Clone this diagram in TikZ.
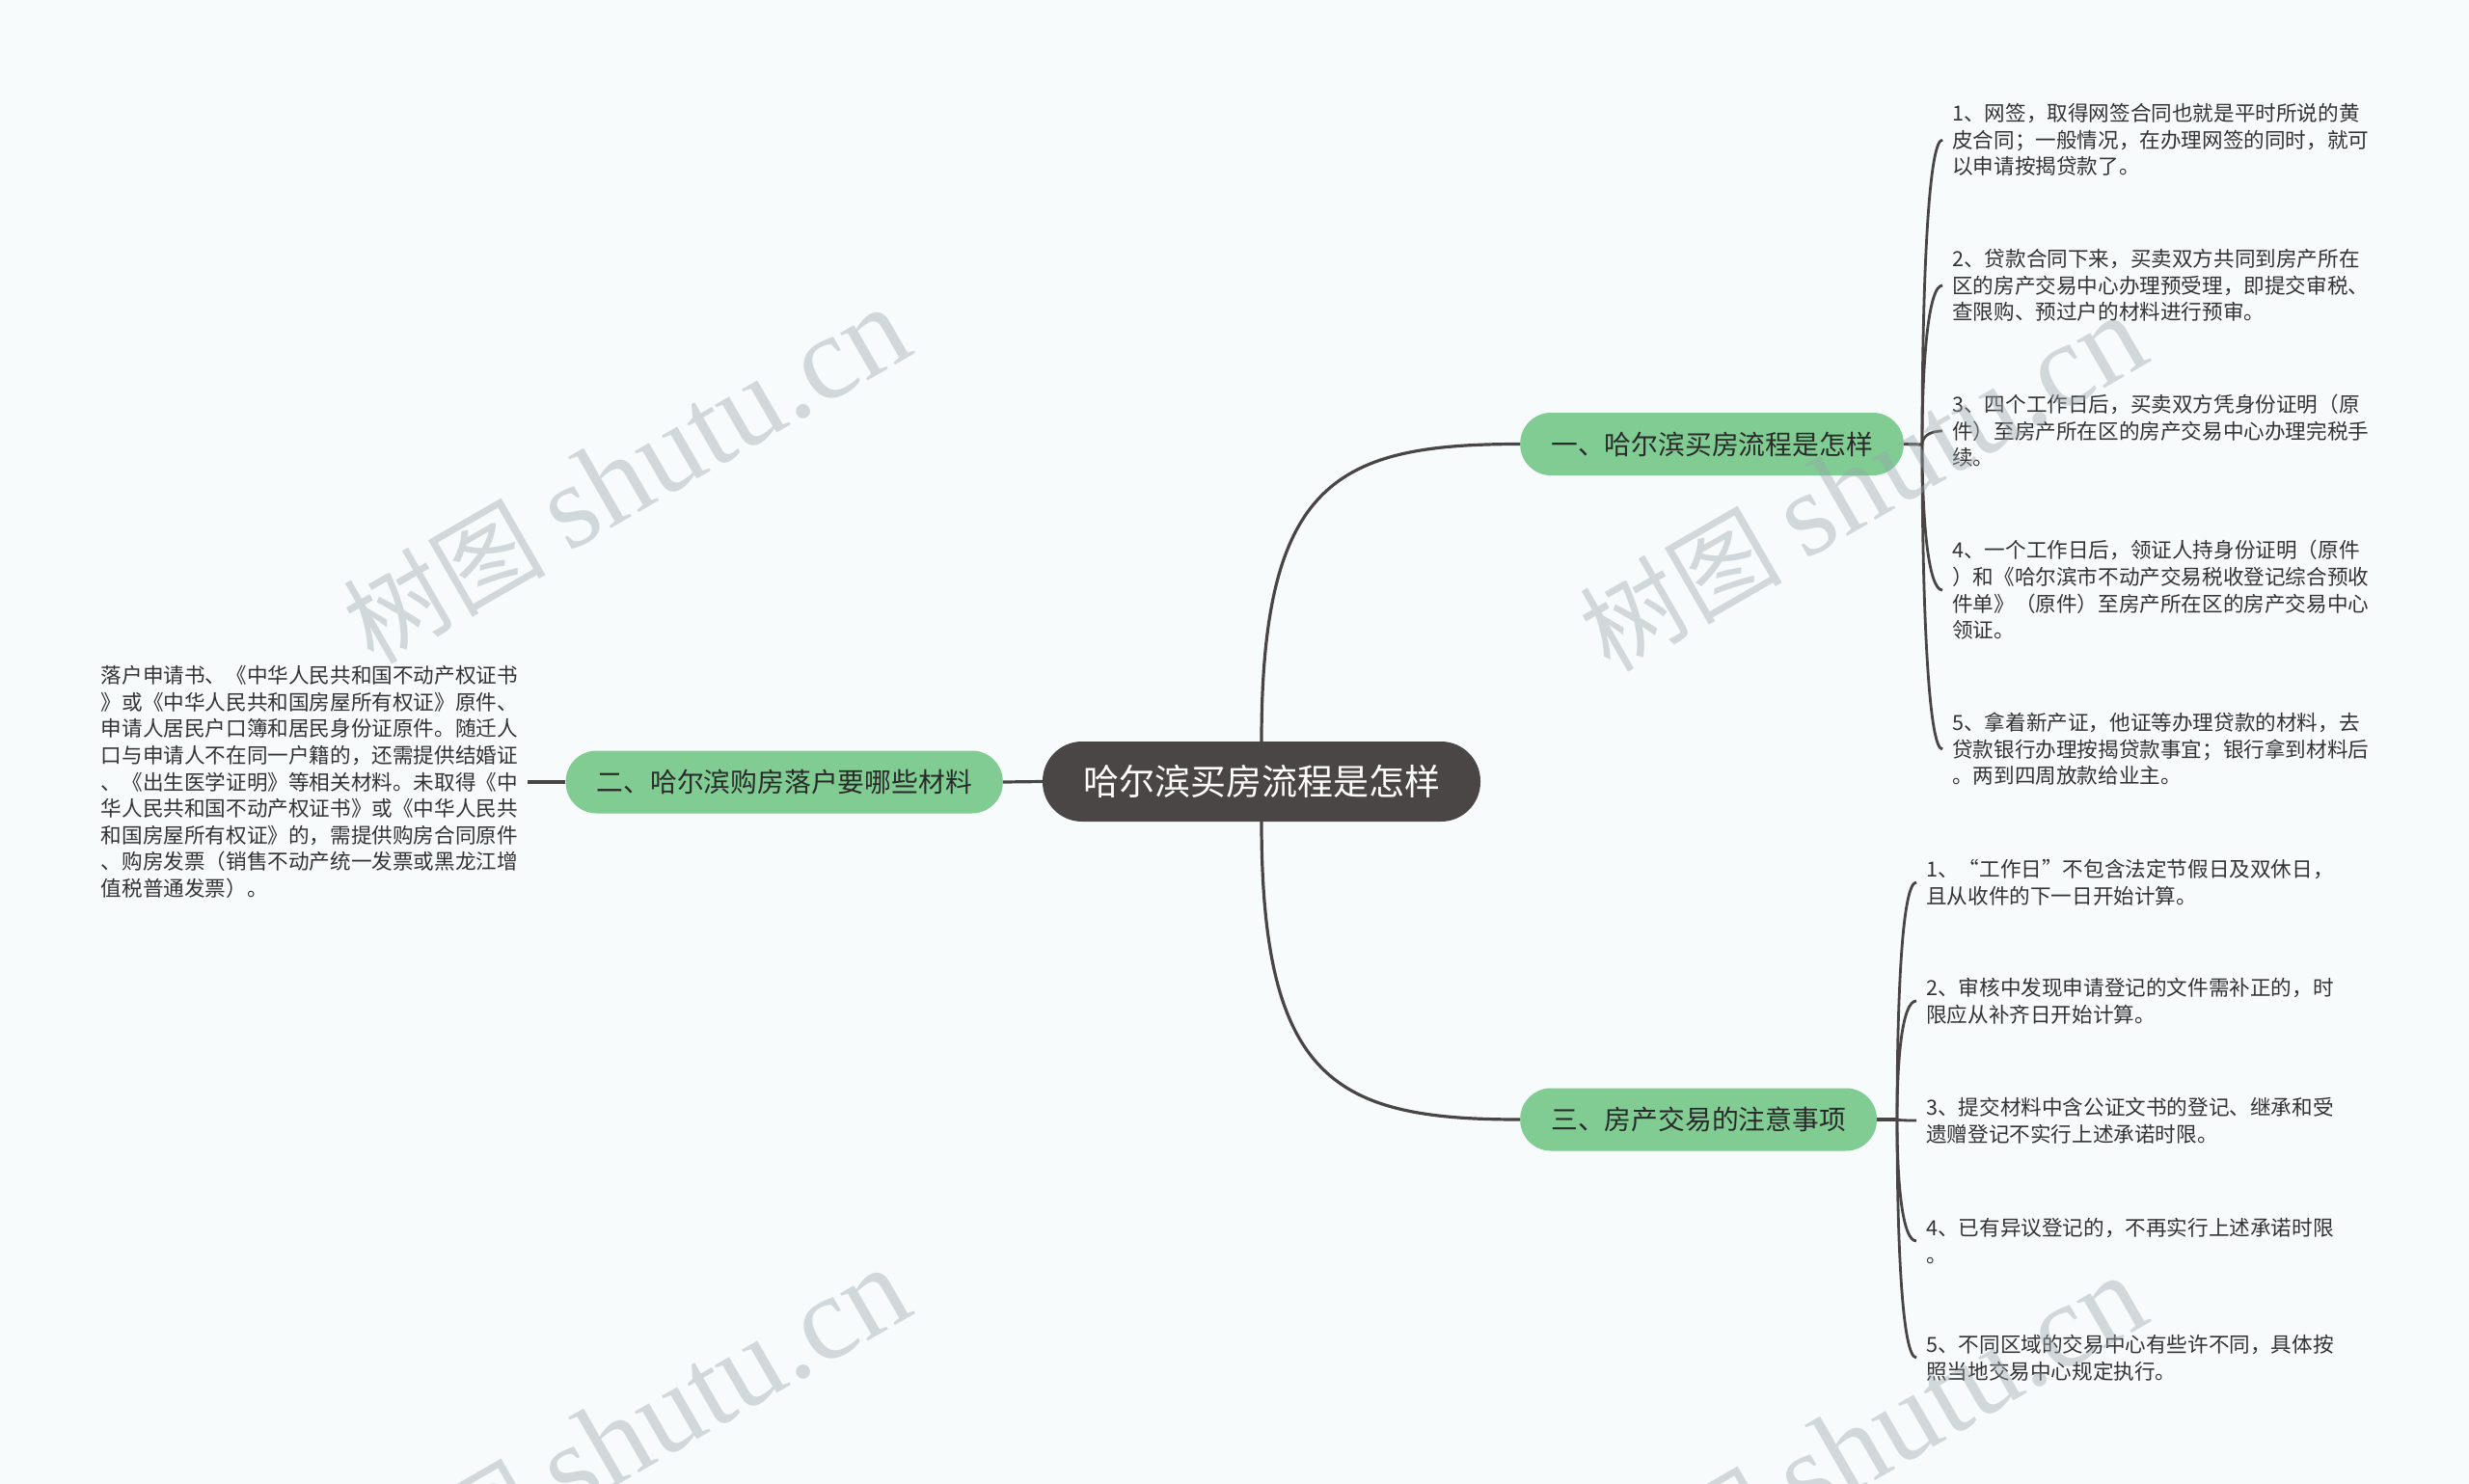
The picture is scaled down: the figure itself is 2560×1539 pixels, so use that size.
\documentclass[tikz,border=0pt]{standalone}
\usepackage{fontspec}
\setmainfont{Noto Sans CJK SC}
\newfontfamily\wmfont{Liberation Serif}
\usetikzlibrary{calc}
\definecolor{bgc}{HTML}{F8FBFC}
\definecolor{linec}{HTML}{4A4545}
\definecolor{greenc}{HTML}{80CC93}
\definecolor{darkc}{HTML}{4B4646}
\definecolor{leafc}{HTML}{333333}
\definecolor{branchtext}{HTML}{2A2A2A}
\definecolor{wmc}{HTML}{98A4AB}
\begin{document}
\begin{tikzpicture}[x=1pt,y=-1pt,
  conn/.style={draw=linec, line width=3.2pt},
  centerbox/.style={fill=darkc, rounded corners=41pt, minimum height=83pt, inner xsep=42pt, inner ysep=0pt, font=\fontsize{37}{40}\selectfont, text=white},
  branch/.style={fill=greenc, rounded corners=32pt, minimum height=65pt, inner xsep=32pt, inner ysep=0pt, font=\fontsize{27.8}{30}\selectfont, text=branchtext},
  leaf/.style={anchor=west, align=left, inner xsep=10pt, inner ysep=0pt, font=\fontsize{21.6}{27.6}\selectfont, text=leafc},
  wm/.style={rotate=30, anchor=base east, text=wmc, text opacity=0.4, inner sep=0pt, font=\fontsize{105}{110}\selectfont}]
\useasboundingbox (0,0) rectangle (2560,1539);
\fill[bgc] (0,0) rectangle (2560,1539);

% main nodes
\node[centerbox] (c) at (1308,810.5) {哈尔滨买房流程是怎样};
\node[branch, anchor=west] (b1) at (1576,460.5) {一、哈尔滨买房流程是怎样};
\node[branch, anchor=east] (b2) at (1040,811) {二、哈尔滨购房落户要哪些材料};
\node[branch, anchor=west] (b3) at (1576,1161) {三、房产交易的注意事项};

\coordinate (S1) at (1993,461);
\coordinate (S3) at (1967,1161);

% leaves of branch 1
\node[leaf] (a1) at (2014,145) {1、网签，取得网签合同也就是平时所说的黄\\皮合同；一般情况，在办理网签的同时，就可\\以申请按揭贷款了。};
\node[leaf] (a2) at (2014,296) {2、贷款合同下来，买卖双方共同到房产所在\\区的房产交易中心办理预受理，即提交审税、\\查限购、预过户的材料进行预审。};
\node[leaf] (a3) at (2014,447) {3、四个工作日后，买卖双方凭身份证明（原\\件）至房产所在区的房产交易中心办理完税手\\续。};
\node[leaf] (a4) at (2014,612) {4、一个工作日后，领证人持身份证明（原件\\）和《哈尔滨市不动产交易税收登记综合预收\\件单》（原件）至房产所在区的房产交易中心\\领证。};
\node[leaf] (a5) at (2014,777) {5、拿着新产证，他证等办理贷款的材料，去\\贷款银行办理按揭贷款事宜；银行拿到材料后\\。两到四周放款给业主。};

% leaves of branch 3
\node[leaf] (e1) at (1987,915) {1、“工作日”不包含法定节假日及双休日，\\且从收件的下一日开始计算。};
\node[leaf] (e2) at (1987,1038) {2、审核中发现申请登记的文件需补正的，时\\限应从补齐日开始计算。};
\node[leaf] (e3) at (1987,1162) {3、提交材料中含公证文书的登记、继承和受\\遗赠登记不实行上述承诺时限。};
\node[leaf] (e4) at (1987,1287) {4、已有异议登记的，不再实行上述承诺时限\\。};
\node[leaf] (e5) at (1987,1408) {5、不同区域的交易中心有些许不同，具体按\\照当地交易中心规定执行。};

% leaf of branch 2
\node[leaf, anchor=east] (d1) at (547,811) {落户申请书、《中华人民共和国不动产权证书\\》或《中华人民共和国房屋所有权证》原件、\\申请人居民户口簿和居民身份证原件。随迁人\\口与申请人不在同一户籍的，还需提供结婚证\\、《出生医学证明》等相关材料。未取得《中\\华人民共和国不动产权证书》或《中华人民共\\和国房屋所有权证》的，需提供购房合同原件\\、购房发票（销售不动产统一发票或黑龙江增\\值税普通发票）。};

% connectors
\draw[conn] (c.north) .. controls ($(c.north)+(0,-270)$) and ($(b1.west)+(-190,0)$) .. (b1.west);
\draw[conn] (c.south) .. controls ($(c.south)+(0,270)$) and ($(b3.west)+(-190,0)$) .. (b3.west);
\draw[conn] (c.west) -- (b2.east);
\draw[conn] (b2.west) -- (d1.east);
\draw[conn] (b1.east) -- (S1);
\draw[conn] (b3.east) -- (S3);
\foreach \n in {a1,a2,a3,a4,a5}{
  \draw[conn, line width=2.8pt] (S1) .. controls ($(S1)!0.5!(S1|-\n.west)$) and ($(\n.west)+(-15,0)$) .. (\n.west);
}
\foreach \n in {e1,e2,e3,e4,e5}{
  \draw[conn, line width=2.8pt] (S3) .. controls ($(S3)!0.5!(S3|-\n.west)$) and ($(\n.west)+(-15,0)$) .. (\n.west);
}

% watermarks
\node[wm] (w1) at (951,365) {树图 {\wmfont\fontsize{124}{124}\selectfont shutu.cn}};
\node[wm] (w2) at (2233,373) {树图 {\wmfont\fontsize{124}{124}\selectfont shutu.cn}};
\node[wm] (w3) at (951,1361) {树图 {\wmfont\fontsize{124}{124}\selectfont shutu.cn}};
\node[wm] (w4) at (2233,1369) {树图 {\wmfont\fontsize{124}{124}\selectfont shutu.cn}};
\end{tikzpicture}
\end{document}
